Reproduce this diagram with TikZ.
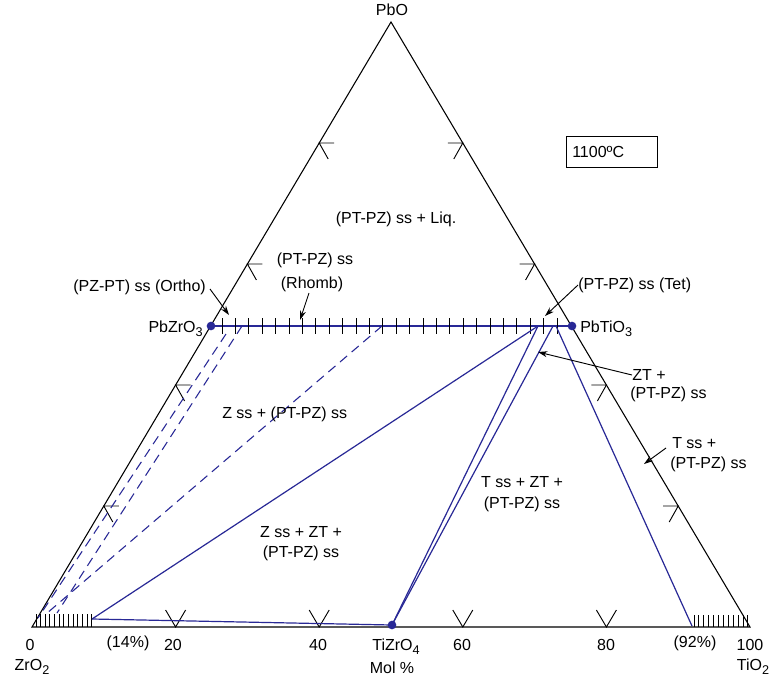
\documentclass[tikz,border=0pt]{standalone}
\usepackage{fontspec}
\setmainfont{Liberation Sans}
\usetikzlibrary{arrows.meta}
\newcommand{\subsc}[1]{\raisebox{-0.45ex}{\fontsize{9.5}{10}\selectfont #1}}
\definecolor{phase}{RGB}{40,40,150}
\begin{document}
\begin{tikzpicture}[x=0.75pt,y=-0.75pt,
  font=\fontsize{12}{14}\selectfont,
  edge/.style={black, line width=0.8pt},
  tickmark/.style={black, line width=0.7pt},
  phaseline/.style={phase, line width=0.9pt},
  tieline/.style={phase, line width=0.8pt, dash pattern=on 7pt off 4.5pt},
  callout/.style={black, line width=0.7pt, -{Stealth[length=7pt,width=4.5pt]}},
  lbl/.style={inner sep=0pt},
  dotmark/.style={circle, fill=phase, inner sep=0pt, minimum size=6.5pt}]
\useasboundingbox (0,0) rectangle (771,683);
\fill[white] (0,0) rectangle (771,683);

% triangle
\coordinate (Z) at (32,627);
\coordinate (T) at (750,627);
\coordinate (P) at (391,22);
\draw[edge] (Z) -- (T) -- (P) -- cycle;

% edge ticks
\foreach \f in {0.2,0.4,0.6,0.8}{
  \pgfmathsetmacro\bx{32+718*\f}
  \draw[tickmark] ({\bx-10},610) -- (\bx,627) -- ({\bx+10},610);
  \pgfmathsetmacro\lx{32+359*\f}
  \pgfmathsetmacro\ly{627-605*\f}
  \draw[tickmark] ({\lx+15},\ly) -- (\lx,\ly) -- ({\lx+9},{\ly+16});
  \pgfmathsetmacro\rx{750-359*\f}
  \draw[tickmark] ({\rx-15},\ly) -- (\rx,\ly) -- ({\rx-9},{\ly+16});
}

% solid solution line PbZrO3 - PbTiO3
\coordinate (PZ) at (211,326);
\coordinate (PT) at (572,326);
\coordinate (TZ) at (392,625);
\draw[phaseline] (PZ) -- (PT);
\foreach \k in {0,...,25}{
  \draw[tickmark] ({222+13.4*\k},318) -- ({222+13.4*\k},334);
}

% hatched solid solution ranges on base
\foreach \k in {0,...,12}{
  \draw[tickmark] ({36+4.65*\k},614) -- ({36+4.65*\k},627);
}
\foreach \k in {0,...,11}{
  \draw[tickmark] ({694+4.9*\k},615) -- ({694+4.9*\k},627);
}

% tie lines and phase boundaries
\coordinate (Zs) at (92,619);
\coordinate (Ts) at (692,626);
\coordinate (Ja) at (538,326);
\coordinate (Jb) at (553,326);
\coordinate (Jc) at (556,326);
\draw[phaseline] (Zs) -- (TZ);
\draw[phaseline] (Ja) -- (Zs);
\draw[phaseline] (Ja) -- (TZ);
\draw[phaseline] (Jb) -- (TZ);
\draw[phaseline] (Jc) -- (Ts);

\coordinate (Da1) at (226,334);
\coordinate (Da2) at (38,618);
\coordinate (Db1) at (242,326);
\coordinate (Db2) at (57,613);
\coordinate (Dc1) at (382,326);
\coordinate (Dc2) at (46,614);
\draw[tieline] (Da1) -- (Da2);
\draw[tieline] (Db1) -- (Db2);
\draw[tieline] (Dc1) -- (Dc2);

% compound points
\node[dotmark] (pzdot) at (PZ) {};
\node[dotmark] (ptdot) at (PT) {};
\node[dotmark] (tzdot) at (TZ) {};

% labels
\node[lbl] (pbo) at (392,10) {PbO};
\node[draw, line width=0.8pt, anchor=north west, minimum width=68.25pt, minimum height=23.25pt, inner sep=0pt] (tbox) at (566,136) {};
\node[lbl, anchor=west] (temp) at (572,152) {1100ºC};

\node[lbl] (liq) at (396,219) {(PT-PZ) ss + Liq.};
\node[lbl] (rh1) at (315,260) {(PT-PZ) ss};
\node[lbl] (rh2) at (312,284) {(Rhomb)};
\node[lbl, anchor=east] (ortho) at (206,287) {(PZ-PT) ss (Ortho)};
\node[lbl, anchor=east] (pzl) at (203,329) {PbZrO\subsc{3}};
\node[lbl, anchor=west] (ptl) at (580,329) {PbTiO\subsc{3}};
\node[lbl, anchor=west] (tet) at (578,285) {(PT-PZ) ss (Tet)};
\node[lbl, anchor=west] (zt1) at (632,375) {ZT +};
\node[lbl, anchor=west] (zt2) at (630,394) {(PT-PZ) ss};
\node[lbl, anchor=west] (ts1) at (672,443) {T ss +};
\node[lbl, anchor=west] (ts2) at (670,464) {(PT-PZ) ss};
\node[lbl, anchor=west] (zpz) at (222,414) {Z ss + (PT-PZ) ss};
\node[lbl] (zzt1) at (301,532) {Z ss + ZT +};
\node[lbl] (zzt2) at (301,553) {(PT-PZ) ss};
\node[lbl] (tzt1) at (522,482) {T ss + ZT +};
\node[lbl] (tzt2) at (522,504) {(PT-PZ) ss};

% axis labels
\node[lbl] (n0) at (30,645) {0};
\node[lbl] (n20) at (173,645) {20};
\node[lbl] (n40) at (318,645) {40};
\node[lbl] (n60) at (462,645) {60};
\node[lbl] (n80) at (606,645) {80};
\node[lbl] (n100) at (750,645) {100};
\node[lbl] (p14) at (128,643) {(14\%)};
\node[lbl] (p92) at (695,643) {(92\%)};
\node[lbl] (zro) at (32,667) {ZrO\subsc{2}};
\node[lbl] (tio) at (753,667) {TiO\subsc{2}};
\node[lbl] (tzl) at (396,647) {TiZrO\subsc{4}};
\node[lbl] (mol) at (392,668) {Mol \%};

% callout arrows
\coordinate (orthoS) at (210,289);
\coordinate (orthoT) at (229,315);
\coordinate (rhS) at (309,293);
\coordinate (rhT) at (300,320);
\coordinate (tetT) at (545,316);
\coordinate (ztT) at (538,352);
\coordinate (tsS) at (666,448);
\coordinate (tsT) at (644,464);
\draw[callout] (orthoS) -- (orthoT);
\draw[callout] (rhS) -- (rhT);
\draw[callout] (tet.west) -- (tetT);
\draw[callout] (zt1.west) -- (ztT);
\draw[callout] (tsS) -- (tsT);
\end{tikzpicture}
\end{document}
